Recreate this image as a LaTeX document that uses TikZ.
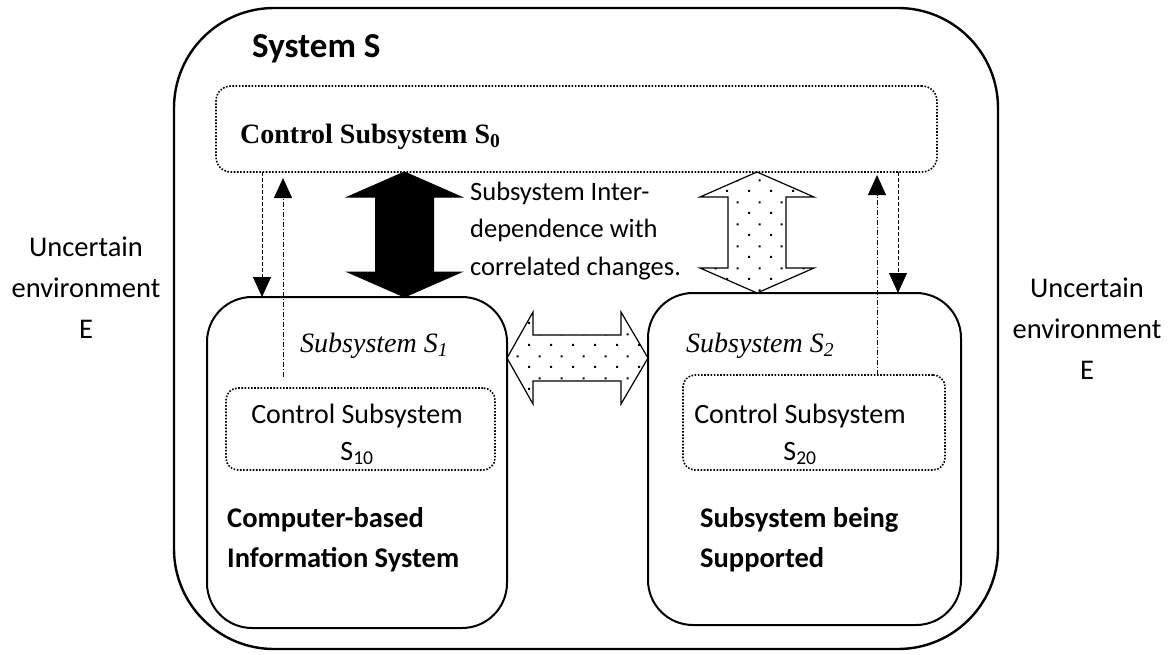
\documentclass[tikz,border=0pt]{standalone}
\usepackage{fontspec}
\setmainfont{Carlito}
\newfontfamily\serifface{Liberation Serif}
\usetikzlibrary{arrows.meta,calc,patterns.meta}

% sparse staggered dot fill used inside the open block arrows
\tikzdeclarepattern{
  name=sparsedots,
  type=uncolored,
  bounding box={(0pt,0pt) and (22pt,22pt)},
  tile size={(22pt,22pt)},
  code={
    \fill (0pt,0pt) rectangle (2.2pt,2.2pt);
    \fill (11pt,11pt) rectangle (13.2pt,13.2pt);
  }
}

% vertical double block arrow: #1 style, #2 upper tip, #3 lower tip
\newcommand\blockarrowV[3]{%
  \path[#1] (#2) -- ($(#2)+(57,25)$) -- ($(#2)+(29,25)$) -- ($(#3)+(29,-25)$)
    -- ($(#3)+(57,-25)$) -- (#3) -- ($(#3)+(-57,-25)$) -- ($(#3)+(-29,-25)$)
    -- ($(#2)+(-29,25)$) -- ($(#2)+(-57,25)$) -- cycle;}
% horizontal double block arrow: #1 style, #2 left tip, #3 right tip
\newcommand\blockarrowH[3]{%
  \path[#1] (#2) -- ($(#2)+(26,-46)$) -- ($(#2)+(26,-23)$) -- ($(#3)+(-27,-23)$)
    -- ($(#3)+(-27,-46)$) -- (#3) -- ($(#3)+(-27,46)$) -- ($(#3)+(-27,23)$)
    -- ($(#2)+(26,23)$) -- ($(#2)+(26,46)$) -- cycle;}

\begin{document}
\begin{tikzpicture}[x=1pt,y=-1pt,
  outerbox/.style={draw, line width=2.4pt, rounded corners=100pt, outer sep=0pt, inner sep=0pt},
  subbox/.style={draw, line width=2pt, rounded corners=45pt, outer sep=0pt, inner sep=0pt},
  dotbox/.style={draw, line width=1.6pt, dash pattern=on 1.6pt off 1.6pt, outer sep=0pt, inner sep=0pt},
  plain/.style={font=\fontsize{28.5pt}{41pt}\selectfont, inner sep=0pt},
  heading/.style={font=\fontsize{28.5pt}{40pt}\selectfont\bfseries, inner sep=0pt, align=left},
  subname/.style={font=\serifface\itshape\fontsize{28pt}{32pt}\selectfont, inner sep=0pt},
  feedback/.style={line width=0.8pt, -{Triangle[width=18pt,length=20pt]}},
  downflow/.style={feedback, dash pattern=on 4pt off 2pt},
  upflow/.style={feedback, dash pattern=on 5pt off 2pt on 1pt off 2pt},
  solidblock/.style={fill=black, draw=black, line width=1pt, line join=miter},
  openblock/.style={draw=black, line width=1.2pt, line join=miter, pattern=sparsedots, pattern color=black}]
\useasboundingbox (0,0) rectangle (1171,654);

% boxes
\node[outerbox, minimum width=824pt, minimum height=641pt] (s) at (586,328.5) {};
\node[dotbox, rounded corners=15pt, minimum width=721pt, minimum height=86pt] (s0) at (576.5,129) {};
\node[subbox, minimum width=300pt, minimum height=331pt] (s1) at (357,462.5) {};
\node[subbox, minimum width=313pt, minimum height=332pt] (s2) at (804.5,459) {};
\node[dotbox, rounded corners=12pt, minimum width=269pt, minimum height=82pt] (s10) at (360.5,429) {};
\node[dotbox, rounded corners=12pt, minimum width=262pt, minimum height=95pt] (s20) at (814,422.5) {};

% titles
\node[anchor=base west, inner sep=0pt, font=\fontsize{35pt}{40pt}\selectfont\bfseries] (title) at (252,57) {System S};
\node[anchor=base west, inner sep=0pt, font=\serifface\bfseries\fontsize{28pt}{32pt}\selectfont] (s0label) at (240,143) {Control Subsystem S\textsubscript{0}};
\node[subname, anchor=base west] (s1label) at (300,352) {Subsystem S\textsubscript{1}};
\node[subname, anchor=base west] (s2label) at (686,352) {Subsystem S\textsubscript{2}};

% inner control subsystems (anchored on the last line's baseline)
\node[plain, align=center, font=\fontsize{28pt}{37pt}\selectfont, anchor=base] (s10label) at (357,460) {Control Subsystem\\S\textsubscript{10}};
\node[plain, align=center, font=\fontsize{28pt}{37pt}\selectfont, anchor=base] (s20label) at (800,460) {Control Subsystem\\S\textsubscript{20}};

% subsystem descriptions
\node[heading, anchor=base west] (cbis) at (227,567) {Computer-based\\Information System};
\node[heading, anchor=base west] (sbs) at (700,567) {Subsystem being\\Supported};

% environment
\node[plain, align=center, anchor=base] (envl) at (86,338) {Uncertain\\environment\\E};
\node[plain, align=center, anchor=base] (envr) at (1087,379) {Uncertain\\environment\\E};

% interdependence note
\node[plain, align=left, font=\fontsize{26.5pt}{37.5pt}\selectfont, anchor=base west] (note) at (470,275) {Subsystem Inter-\\dependence with\\correlated changes.};

% reference columns for the connectors
\coordinate (xa) at (262,0);
\coordinate (xb) at (283,0);
\coordinate (xc) at (877,0);
\coordinate (xd) at (898,0);
\coordinate (xk) at (404.5,0);
\coordinate (xm) at (757,0);
\coordinate (yh) at (0,358);

% control flows
\draw[downflow] (s0.south -| xa) -- (s1.north -| xa);
\draw[upflow] ($(s10.north -| xb)+(0,-11)$) -- ($(s0.south -| xb)+(0,6)$);
\draw[upflow] (s20.north -| xc) -- ($(s0.south -| xc)+(0,3)$);
\draw[downflow] (s0.south -| xd) -- (s2.north -| xd);

% block arrows
\blockarrowV{solidblock}{s0.south -| xk}{s1.north -| xk}
\blockarrowV{openblock}{s0.south -| xm}{s2.north -| xm}
\blockarrowH{openblock}{s1.east |- yh}{s2.west |- yh}
\end{tikzpicture}
\end{document}
